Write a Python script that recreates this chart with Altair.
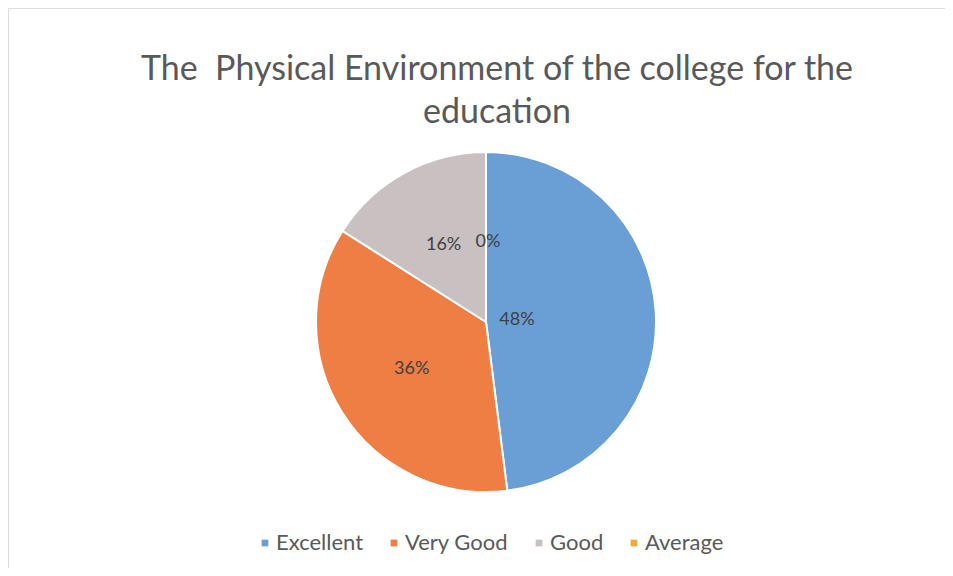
import altair as alt
import pandas as pd
import math

categories = ["Excellent", "Very Good", "Good", "Average"]
values = [48, 36, 16, 0]
labels = ["48%", "36%", "16%", "0%"]
colors = ["#6A9FD6", "#EF7E45", "#C9C0C2", "#F2A93B"]

df = pd.DataFrame({"cat": categories, "val": values, "lab": labels, "order": list(range(len(categories)))})

CX, CY = 478, 314
theta_scale = alt.Scale(domain=[0, 100], range=[0, 2 * math.pi])

base = alt.Chart(df).transform_window(
    cum="sum(val)", sort=[alt.SortField("order")]
).transform_calculate(
    start="datum.cum - datum.val", mid="datum.cum - datum.val/2"
)

pie = base.mark_arc(outerRadius=170, stroke="white", strokeWidth=2).encode(
    theta=alt.Theta("start:Q", scale=theta_scale),
    theta2="cum:Q",
    x=alt.value(CX), y=alt.value(CY),
    color=alt.Color("cat:N", scale=alt.Scale(domain=categories, range=colors),
                    sort=categories,
                    legend=alt.Legend(title=None, orient="none", legendX=246, legendY=524,
                                      direction="horizontal", symbolType="square", symbolSize=45,
                                      symbolStrokeWidth=0,
                                      labelFontSize=22, labelColor="#595959", labelFont="Lato",
                                      columnPadding=19, labelOffset=0)),
)

def lab_layer(filt, r, dx=0):
    return base.transform_filter(filt).mark_text(
        radius=r, fontSize=18, font="Lato", color="#404040", dx=dx).encode(
        theta=alt.Theta("mid:Q", scale=theta_scale),
        x=alt.value(CX), y=alt.value(CY), text="lab:N")

txt_big = lab_layer(alt.datum.cat == "Excellent", 31)
txt_other = lab_layer((alt.datum.cat == "Very Good") | (alt.datum.cat == "Good"), 88)
txt_zero = lab_layer(alt.datum.cat == "Average", 80, dx=2)

chart = alt.layer(pie, txt_big, txt_other, txt_zero).properties(
    width=937, height=560,
    autosize=alt.AutoSizeParams(type="none"),
    padding=0,
    title=alt.Title(["The\u00a0 Physical Environment of the college for the", "education"],
                    anchor="start", frame="bounds", dx=489, dy=139, align="center",
                    fontSize=34, font="Lato", fontWeight="normal", color="#595959",
                    lineHeight=43, baseline="middle", offset=0),
).configure_view(strokeWidth=0).configure(background="white")

chart.save("out.html", embed_options={"renderer": "svg", "actions": False})
